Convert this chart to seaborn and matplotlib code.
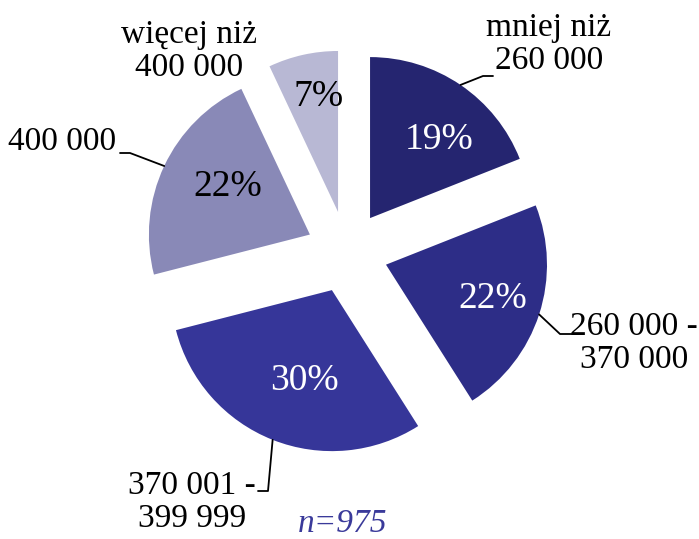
import numpy as np
import matplotlib
matplotlib.use("Agg")
import matplotlib.pyplot as plt
import seaborn as sns

# dane
categories = ["mniej niż\n260 000", "260 000 -\n370 000", "370 001 -\n399 999",
              "400 000", "więcej niż\n400 000"]
shares = [19, 22, 30, 22, 7]
colors = ["#252570", "#2d2d87", "#363699", "#8989b7", "#b8b8d4"]
pct_colors = ["white", "white", "white", "black", "black"]
n_label = "n=975"

sns.set_theme(style="white")
plt.rcParams["font.family"] = ["Liberation Serif", "DejaVu Serif"]

W, H = 699, 539
fig = plt.figure(figsize=(W / 100, H / 100), dpi=100)
ax = fig.add_axes([0, 0, 1, 1])

def px(x, y):
    # współrzędne w pikselach (y w dół) -> dane
    return x, H - y

R = 161
center = px(347, 252)
explode = [41] * len(shares)

wedges, _ = ax.pie(shares, colors=colors, startangle=90, counterclock=False,
                   radius=R, center=center, explode=explode,
                   wedgeprops=dict(linewidth=0))
ax.set_xlim(0, W)
ax.set_ylim(0, H)
ax.set_aspect("equal")
ax.axis("off")

# etykiety procentowe
pct_pos = [(439, 140), (493, 299), (304, 381), (228, 187), (319, 97)]
for s, c, pos in zip(shares, pct_colors, pct_pos):
    ax.text(*px(*pos), f"{s}%", ha="center", va="center", fontsize=27, color=c)

# etykiety kategorii z liniami odniesienia
label_pos = [(549, 44), (634, 343), (192, 502), (62, 142), (189, 51)]
elbows = [[(483, 76), (493, 76)], [(560, 334), (572, 334)],
          [(268, 491), (258, 491)], [(130, 153), (120, 153)], None]
for w, lab, pos, elb in zip(wedges, categories, label_pos, elbows):
    ax.text(*px(*pos), lab, ha="center", va="center", fontsize=24,
            color="black", linespacing=1.12)
    if elb is None:
        continue
    th = np.deg2rad((w.theta1 + w.theta2) / 2)
    cx, cy = w.center
    pts = [(cx + R * np.cos(th), cy + R * np.sin(th))] + [px(*p) for p in elb]
    xs, ys = zip(*pts)
    ax.plot(xs, ys, color="black", lw=1.3)

ax.text(*px(343, 524), n_label, ha="center", va="center", fontsize=24,
        style="italic", color="#3a3a9a")

fig.savefig("out.png", dpi=100)
